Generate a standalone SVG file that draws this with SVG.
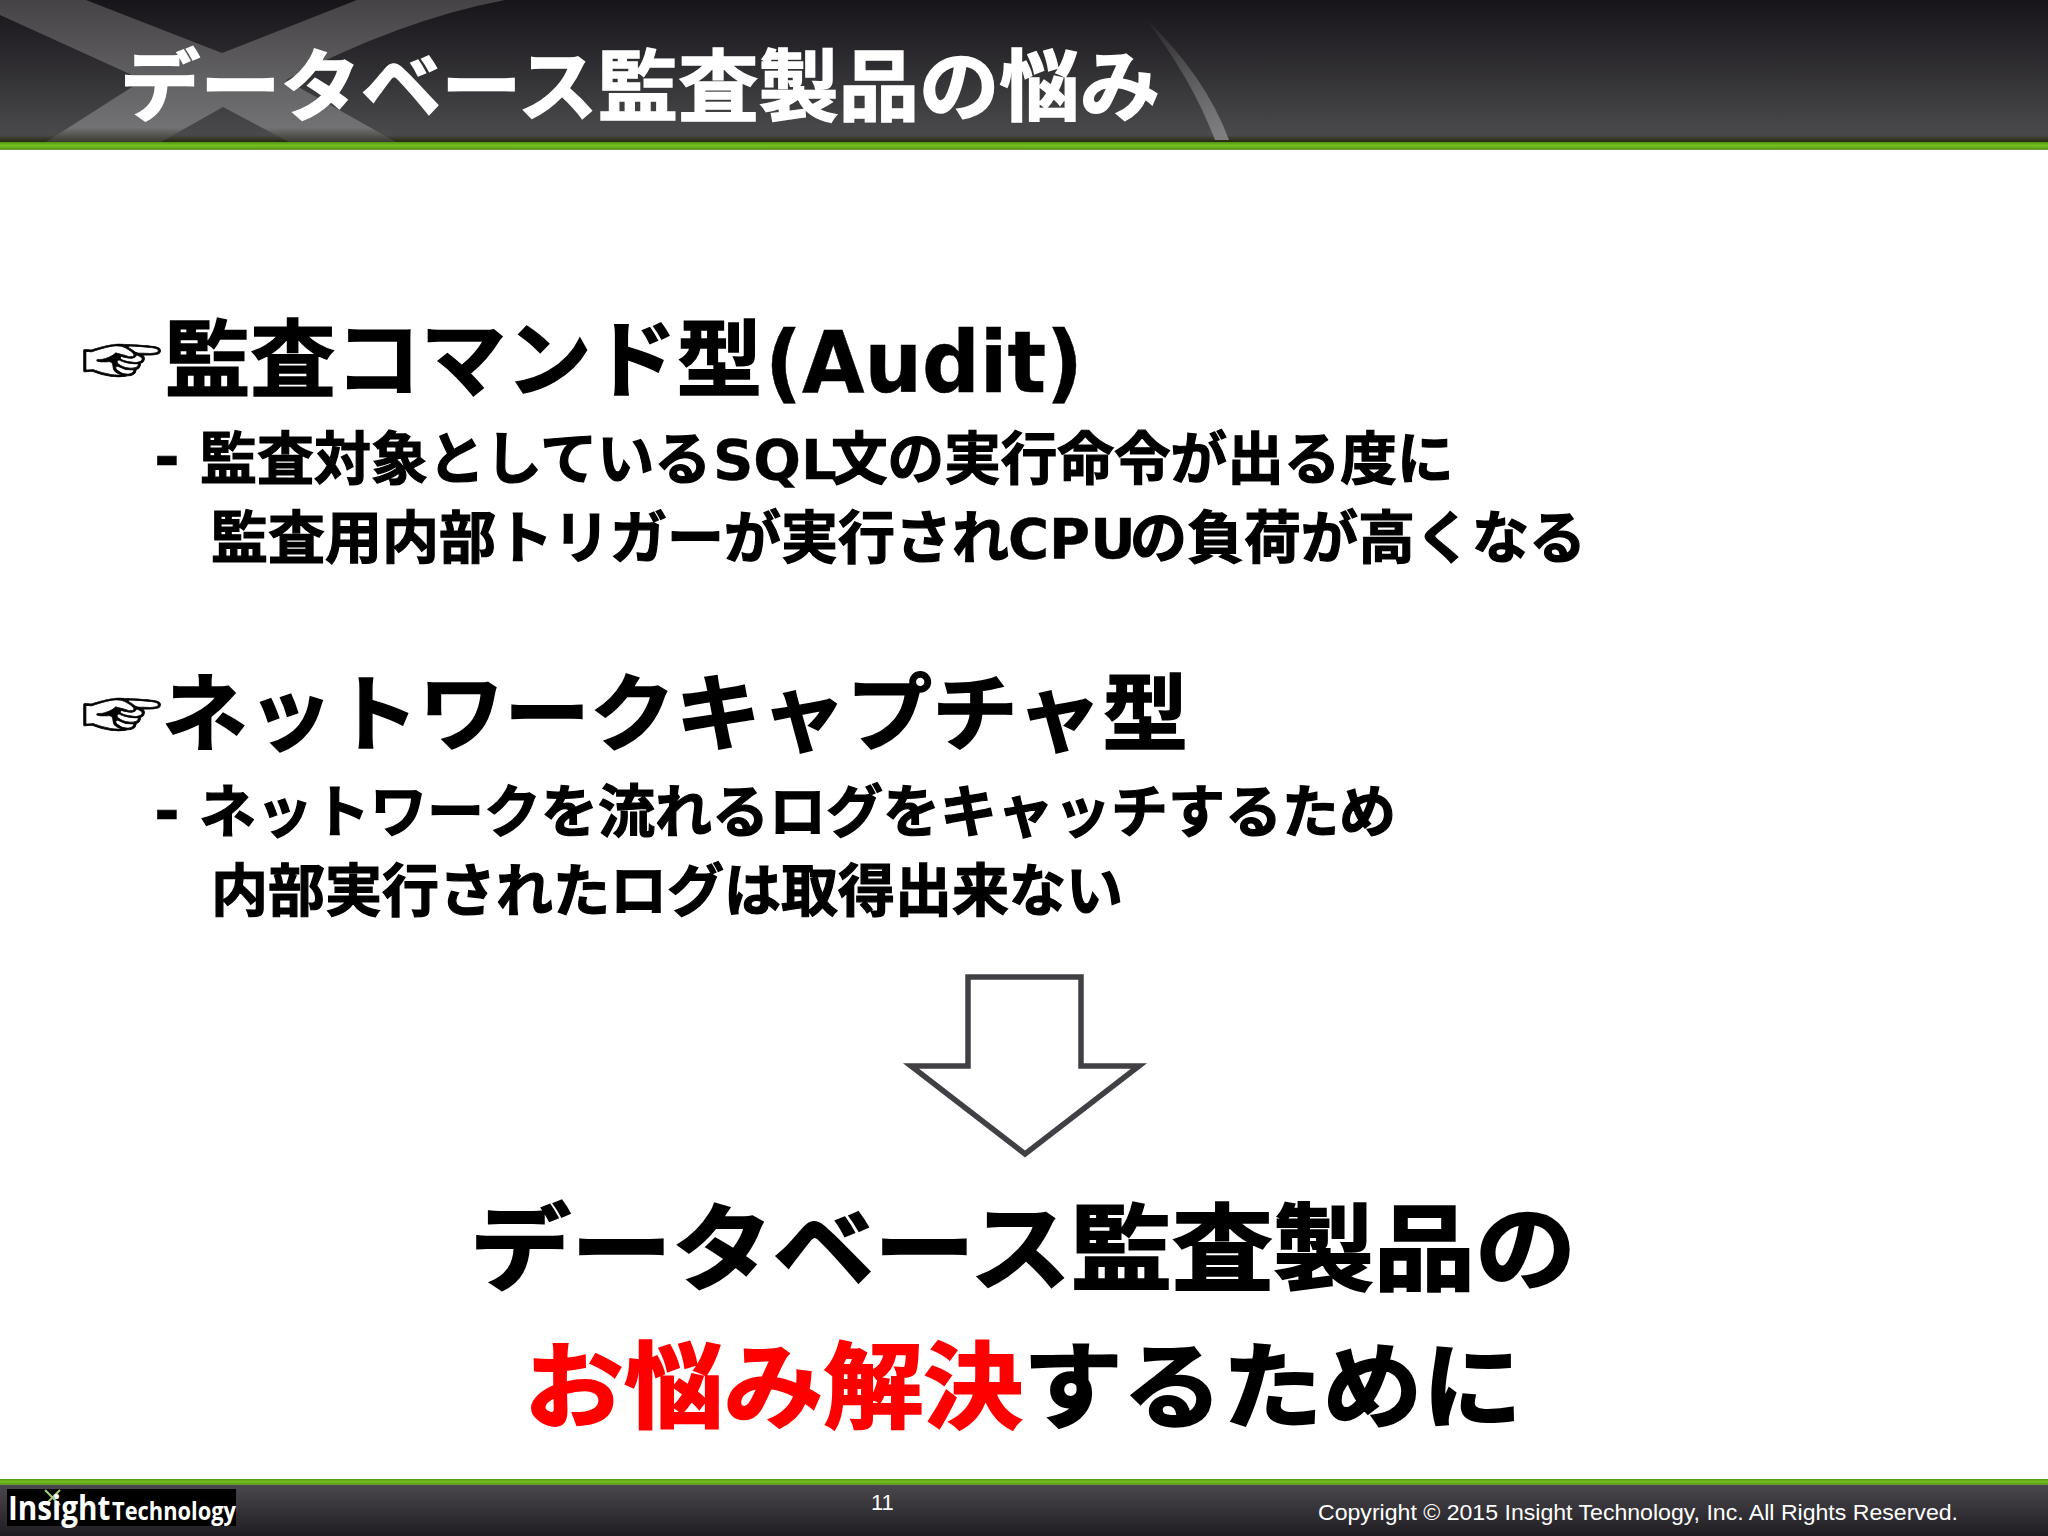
<svg xmlns="http://www.w3.org/2000/svg" width="2048" height="1536" viewBox="0 0 2048 1536">
<defs>
<linearGradient id="hd" x1="0" y1="0" x2="0" y2="1"><stop offset="0" stop-color="#17151a"/><stop offset="0.3" stop-color="#262428"/><stop offset="0.7" stop-color="#3c3b3e"/><stop offset="0.95" stop-color="#4a4a4c"/><stop offset="1" stop-color="#28280f"/></linearGradient>
<linearGradient id="gb" x1="0" y1="0" x2="0" y2="1"><stop offset="0" stop-color="#4f9612"/><stop offset="0.45" stop-color="#76c020"/><stop offset="0.85" stop-color="#5c9c18"/><stop offset="1" stop-color="#7a9c50"/></linearGradient>
<linearGradient id="ft" x1="0" y1="0" x2="0" y2="1"><stop offset="0" stop-color="#4a484c"/><stop offset="1" stop-color="#1f1d22"/></linearGradient>
<linearGradient id="xb" gradientUnits="userSpaceOnUse" x1="0" y1="0" x2="0" y2="142"><stop offset="0" stop-color="#464346"/><stop offset="0.9" stop-color="#727274"/><stop offset="1" stop-color="#3a3a30"/></linearGradient>
<linearGradient id="arc" gradientUnits="userSpaceOnUse" x1="1145" y1="15" x2="1225" y2="140"><stop offset="0" stop-color="#8a8a8c" stop-opacity="0"/><stop offset="1" stop-color="#8a8a8c" stop-opacity="0.85"/></linearGradient>
</defs>
<style>
text{font-family:"Noto Sans CJK JP","Liberation Sans",sans-serif;font-weight:700;fill:#000;stroke:#000}
.h1{font-size:84px;stroke-width:1.5px}
.h1l{font-family:"DejaVu Sans",sans-serif;font-size:86px;stroke-width:.5px}
.h2{font-size:57px;stroke-width:1.2px}
.lat{font-family:"DejaVu Sans",sans-serif;font-size:56px;stroke-width:.4px}
.dash{font-family:"DejaVu Sans",sans-serif;font-size:62px;stroke-width:.5px}
.big{font-size:94px;stroke-width:2px}
.red{fill:#f00;stroke:#f00}
.hand{font-weight:400;font-size:82px;stroke-width:.8px}
.foot{font-family:"Liberation Sans",sans-serif;font-weight:400;font-size:22px;fill:#fff;stroke:none}
.logo{font-family:"Open Sans","Liberation Sans",sans-serif;fill:#fff;stroke:none}
</style>
<rect width="2048" height="1536" fill="#fff"/>
<g id="header">
<rect width="2048" height="142" fill="url(#hd)"/>
<path d="M86 0L222 53L357 0H505Q400 20 286 80L396 142H289L223 107L161 142H46L143 80L0 15V0Z" fill="url(#xb)"/>
<path d="M1143 16Q1205 75 1229 140H1215Q1190 75 1143 16Z" fill="url(#arc)"/>
<rect y="142" width="2048" height="8" fill="url(#gb)"/>
<text x="120" y="115" font-size="78" textLength="1040" lengthAdjust="spacingAndGlyphs" style="fill:#fff;stroke:#fff;stroke-width:1.5px">データベース監査製品の悩み</text>
</g>
<g id="section-audit">
<text class="hand" transform="translate(81,384) scale(1,.82)">☞</text>
<text class="h1" x="165" y="390" textLength="597" lengthAdjust="spacingAndGlyphs">監査コマンド型</text>
<text class="h1l" x="765" y="392" textLength="318" lengthAdjust="spacingAndGlyphs">(Audit)</text>
<text class="dash" x="154" y="479">-</text>
<text class="h2" x="200" y="479">監査対象としている<tspan class="lat" x="713">SQL</tspan><tspan x="831" style="font-size:56.6px">文の実行命令が出る度に</tspan></text>
<text class="h2" x="211" y="558">監査用内部トリガーが実行され<tspan class="lat" x="1008">CPU</tspan><tspan x="1130">の負荷が高くなる</tspan></text>
</g>
<g id="section-network">
<text class="hand" transform="translate(81,738) scale(1,.82)">☞</text>
<text class="h1" x="162" y="744" textLength="1026" lengthAdjust="spacingAndGlyphs">ネットワークキャプチャ型</text>
<text class="dash" x="154" y="833">-</text>
<text class="h2" x="199" y="832">ネットワークを流れるログをキャッチするため</text>
<text class="h2" x="211" y="911">内部実行されたログは取得出来ない</text>
</g>
<g id="arrow">
<path d="M968 977H1081V1066H1139L1025 1154L911 1066H968Z" fill="#fff" stroke="#424045" stroke-width="5.5"/>
</g>
<g id="conclusion">
<text class="big" x="470" y="1283" textLength="1106" lengthAdjust="spacingAndGlyphs">データベース監査製品の</text>
<text class="big" x="524" y="1421" textLength="998" lengthAdjust="spacingAndGlyphs"><tspan class="red">お悩み解決</tspan>するために</text>
</g>
<g id="footer">
<rect y="1479" width="2048" height="6" fill="url(#gb)"/>
<rect y="1485" width="2048" height="51" fill="url(#ft)"/>
<g id="logo">
<rect x="7" y="1489" width="229" height="37" fill="#000"/>
<path d="M45 1490L60 1505M60 1490L45 1505" stroke="#a8cf80" stroke-width="2"/>
<text class="logo" x="8" y="1520" font-size="34" textLength="228" lengthAdjust="spacingAndGlyphs">Insight<tspan font-size="25" dx="2">Technology</tspan></text>
</g>
<text class="foot" x="871" y="1510">11</text>
<text class="foot" x="1318" y="1520" textLength="640" lengthAdjust="spacingAndGlyphs">Copyright © 2015 Insight Technology, Inc. All Rights Reserved.</text>
</g>
</svg>
